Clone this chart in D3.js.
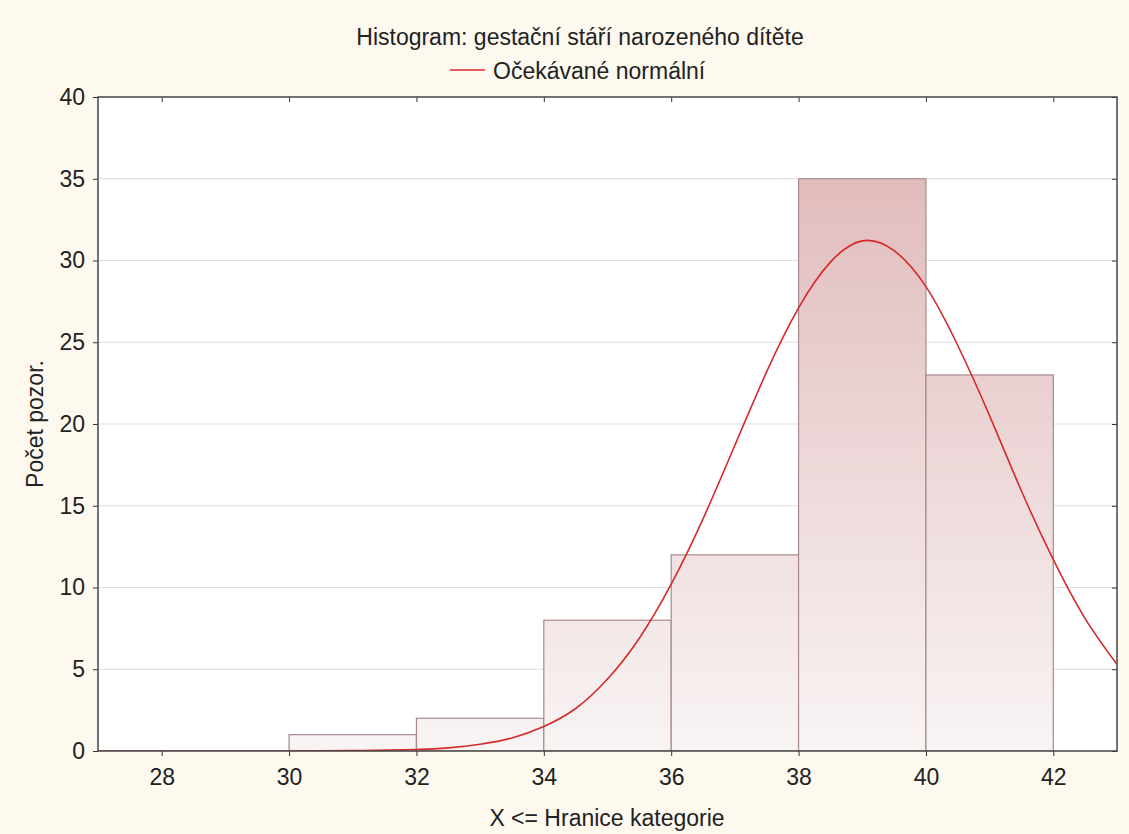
<!DOCTYPE html>
<html>
<head>
<meta charset="utf-8">
<script src="https://cdn.jsdelivr.net/npm/d3@7/dist/d3.min.js"></script>
<style>
  body { margin: 0; background: #fdf9ef; }
  svg { display: block; font-family: "Liberation Sans", Arial, sans-serif; }
  .axis path, .axis line { stroke: #333; }
</style>
</head>
<body>
<div id="chart"></div>
<script>
// bins (lower edge, upper edge) and counts
var binStart = [26, 28, 30, 32, 34, 36, 38, 40];
var binEnd   = [28, 30, 32, 34, 36, 38, 40, 42];
var counts   = [0, 0, 1, 2, 8, 12, 35, 23];

// expected normal curve
var curveX = [27, 29, 30, 31, 32, 32.5, 33, 33.5, 34, 34.5, 35, 35.5, 36, 36.5, 37, 37.5, 38, 38.5, 39, 39.5, 40, 40.5, 41, 41.5, 42, 42.5, 43];
var curveY = [0, 0, 0, 0.02, 0.09, 0.19, 0.41, 0.8, 1.5, 2.6, 4.4, 6.9, 10.2, 14.2, 18.7, 23.2, 27.1, 29.9, 31.2, 30.6, 28.4, 24.8, 20.5, 15.9, 11.7, 8.1, 5.3];

var xTicks = [28, 30, 32, 34, 36, 38, 40, 42];
var yTicks = [0, 5, 10, 15, 20, 25, 30, 35, 40];

var width = 1129, height = 834;
var margin = {top: 97, left: 98, right: 12, bottom: 83};
var fs = "23px";

var svg = d3.select("#chart")
    .append("svg")
    .attr("width", width)
    .attr("height", height);

var xScale = d3.scaleLinear()
    .domain([27, 43])
    .range([margin.left, width - margin.right]);

var yScale = d3.scaleLinear()
    .domain([0, 40])
    .range([height - margin.bottom, margin.top]);

// gradient for bars (over whole plot height)
var defs = svg.append("defs");
var grad = defs.append("linearGradient")
    .attr("id", "barGrad")
    .attr("gradientUnits", "userSpaceOnUse")
    .attr("x1", 0).attr("x2", 0)
    .attr("y1", yScale(40)).attr("y2", yScale(0));
grad.append("stop").attr("offset", "0%").attr("stop-color", "#deb4b5");
grad.append("stop").attr("offset", "100%").attr("stop-color", "#f9f4f4");

defs.append("clipPath").attr("id", "plotClip")
  .append("rect")
    .attr("x", xScale(27)).attr("y", yScale(40))
    .attr("width", xScale(43) - xScale(27))
    .attr("height", yScale(0) - yScale(40));

// plot background
svg.append("rect")
    .attr("x", xScale(27)).attr("y", yScale(40))
    .attr("width", xScale(43) - xScale(27))
    .attr("height", yScale(0) - yScale(40))
    .attr("fill", "#ffffff");

// gridlines
svg.append("g")
  .selectAll("line")
  .data(yTicks.slice(1, -1))
  .enter()
  .append("line")
    .attr("x1", xScale(27)).attr("x2", xScale(43))
    .attr("y1", function(d) { return yScale(d); })
    .attr("y2", function(d) { return yScale(d); })
    .attr("stroke", "#dedede")
    .attr("stroke-width", 1);

var plot = svg.append("g").attr("clip-path", "url(#plotClip)");

// bars
plot.selectAll(".bar")
    .data(counts)
    .enter()
    .append("rect")
      .attr("class", "bar")
      .attr("x", function(d, i) { return xScale(binStart[i]); })
      .attr("y", function(d) { return yScale(d); })
      .attr("width", function(d, i) { return xScale(binEnd[i]) - xScale(binStart[i]); })
      .attr("height", function(d) { return yScale(0) - yScale(d); })
      .attr("fill", "url(#barGrad)")
      .attr("stroke", function(d) { return d > 0 ? "#a88a8c" : "none"; })
      .attr("stroke-width", 1.2);

// normal curve
var line = d3.line()
    .x(function(d, i) { return xScale(curveX[i]); })
    .y(function(d) { return yScale(d); })
    .curve(d3.curveNatural);

plot.append("path")
    .datum(curveY)
    .attr("d", line)
    .attr("fill", "none")
    .attr("stroke", "#d42a2a")
    .attr("stroke-width", 1.6);

// axes
var xAxis = svg.append("g")
    .attr("class", "axis")
    .attr("transform", "translate(0," + yScale(0) + ")")
    .call(d3.axisBottom(xScale).tickValues(xTicks).tickSize(5).tickSizeOuter(0).tickPadding(13));

var xTop = svg.append("g")
    .attr("class", "axis")
    .attr("transform", "translate(0," + yScale(40) + ")")
    .call(d3.axisBottom(xScale).tickValues(xTicks).tickSize(5).tickSizeOuter(0).tickFormat(""));

var yAxis = svg.append("g")
    .attr("class", "axis")
    .attr("transform", "translate(" + xScale(27) + ",0)")
    .call(d3.axisLeft(yScale).tickValues(yTicks).tickSize(5).tickSizeOuter(0).tickPadding(8));

var yRight = svg.append("g")
    .attr("class", "axis")
    .attr("transform", "translate(" + xScale(43) + ",0)")
    .call(d3.axisLeft(yScale).tickValues(yTicks).tickSize(5).tickSizeOuter(0).tickFormat(""));

[xAxis, xTop, yAxis, yRight].forEach(function(a) {
  a.select(".domain").remove();
  a.attr("font-size", null).attr("font-family", null);
  a.selectAll(".tick text").style("font-size", fs).attr("fill", "#222");
});

// frame
svg.append("rect")
    .attr("x", xScale(27)).attr("y", yScale(40))
    .attr("width", xScale(43) - xScale(27))
    .attr("height", yScale(0) - yScale(40))
    .attr("fill", "none")
    .attr("stroke", "#444")
    .attr("stroke-width", 1.5);

// title & legend
svg.append("text")
    .attr("x", 580).attr("y", 45)
    .attr("text-anchor", "middle")
    .style("font-size", fs)
    .attr("fill", "#222")
    .text("Histogram: gestační stáří narozeného dítěte");

svg.append("line")
    .attr("x1", 450).attr("x2", 485)
    .attr("y1", 70).attr("y2", 70)
    .attr("stroke", "#d42a2a")
    .attr("stroke-width", 1.6);

svg.append("text")
    .attr("x", 493).attr("y", 79)
    .style("font-size", fs)
    .attr("fill", "#222")
    .text("Očekávané normální");

// axis titles
svg.append("text")
    .attr("x", 607).attr("y", 826)
    .attr("text-anchor", "middle")
    .style("font-size", fs)
    .attr("fill", "#222")
    .text("X <= Hranice kategorie");

svg.append("text")
    .attr("transform", "translate(43," + yScale(20) + ")rotate(-90)")
    .attr("text-anchor", "middle")
    .style("font-size", fs)
    .attr("fill", "#222")
    .text("Počet pozor.");
</script>
</body>
</html>
